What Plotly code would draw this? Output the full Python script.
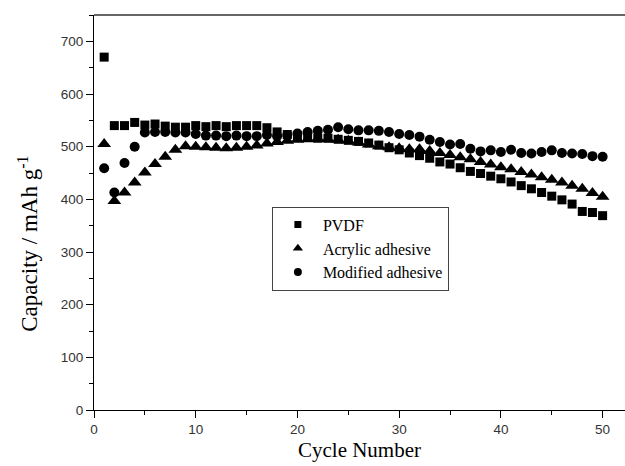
import plotly.graph_objects as go

cycles = list(range(1, 51))

pvdf = [670, 540, 540, 546, 541, 543, 539, 537, 537, 540,
        538, 540, 538, 540, 540, 540, 536, 528, 523, 520,
        518, 516, 516, 514, 512, 510, 507, 503, 498, 494,
        488, 483, 478, 471, 467, 460, 453, 449, 444, 439,
        433, 426, 420, 413, 406, 399, 391, 377, 375, 369]

acrylic = [505, 397, 413, 432, 451, 467, 481, 494, 501, 500,
           499, 498, 497, 498, 500, 502, 506, 509, 511, 513,
           514, 515, 514, 513, 511, 508, 504, 501, 499, 497,
           495, 495, 492, 488, 484, 480, 476, 471, 466, 461,
           457, 452, 447, 442, 437, 432, 426, 420, 412, 405]

modified = [459, 413, 469, 500, 527, 528, 528, 527, 527, 524,
            521, 521, 520, 521, 520, 520, 522, 520, 522, 525,
            528, 530, 532, 537, 533, 531, 531, 530, 528, 524,
            522, 519, 513, 509, 504, 505, 496, 491, 493, 490,
            494, 488, 487, 490, 493, 488, 487, 486, 482, 481]

series_names = ["PVDF", "Acrylic adhesive", "Modified adhesive"]
symbols = ["square", "triangle-up", "circle"]
sizes = [9, 12, 10]
legend_sizes = [7, 9, 8]

x_ticks = [0, 10, 20, 30, 40, 50]
y_ticks = [0, 100, 200, 300, 400, 500, 600, 700]

serif = "Liberation Serif, Times New Roman, serif"
sans = "Liberation Sans, Arial, sans-serif"

fig = go.Figure()
for name, vals, sym, sz in zip(series_names, [pvdf, acrylic, modified], symbols, sizes):
    fig.add_trace(go.Scatter(x=cycles, y=vals, mode="markers", name=name,
                             legendgroup=name, showlegend=False,
                             marker=dict(symbol=sym, size=sz, color="black")))
# legend entries use smaller glyphs than the plotted markers
for name, sym, sz in zip(series_names, symbols, legend_sizes):
    fig.add_trace(go.Scatter(x=[None], y=[None], mode="markers", name=name,
                             legendgroup=name, showlegend=True,
                             marker=dict(symbol=sym, size=sz, color="black")))

fig.update_layout(
    width=625, height=466,
    margin=dict(l=94, r=0, t=15, b=56),
    paper_bgcolor="white", plot_bgcolor="white",
    showlegend=True,
    legend=dict(x=0.335, y=0.515, xanchor="left", yanchor="top",
                bordercolor="#444", borderwidth=1, bgcolor="white",
                font=dict(family=serif, size=16, color="black"),
                itemwidth=40, tracegroupgap=0),
    shapes=[dict(type="line", xref="paper", yref="paper", x0=0, x1=1, y0=1, y1=1,
                 line=dict(color="#333", width=1.5))],
    annotations=[dict(text="Capacity / mAh g<sup>-1</sup>", textangle=-90,
                      xref="paper", yref="paper", x=-0.125, y=0.42,
                      xanchor="center", yanchor="middle", showarrow=False,
                      font=dict(family=serif, size=23, color="black"))],
)

fig.update_xaxes(
    range=[0, 52.2], tickvals=x_ticks, ticktext=[str(v) for v in x_ticks],
    showgrid=False, zeroline=False, showline=True, linecolor="black", linewidth=1,
    ticks="outside", ticklen=7, tickcolor="black",
    minor=dict(dtick=5, tick0=0, ticks="outside", ticklen=4, tickcolor="black"),
    tickfont=dict(family=sans, size=13.5, color="#333"),
    title=dict(text="Cycle Number", font=dict(family=serif, size=21, color="black"), standoff=6),
)
fig.update_yaxes(
    range=[0, 750], tickvals=y_ticks, ticktext=[str(v) for v in y_ticks],
    showgrid=False, zeroline=False, showline=True, linecolor="black", linewidth=1,
    ticks="outside", ticklen=7, tickcolor="black",
    minor=dict(dtick=50, tick0=0, ticks="outside", ticklen=4, tickcolor="black"),
    tickfont=dict(family=sans, size=13.5, color="#333"),
)

fig.write_html("out.html")
